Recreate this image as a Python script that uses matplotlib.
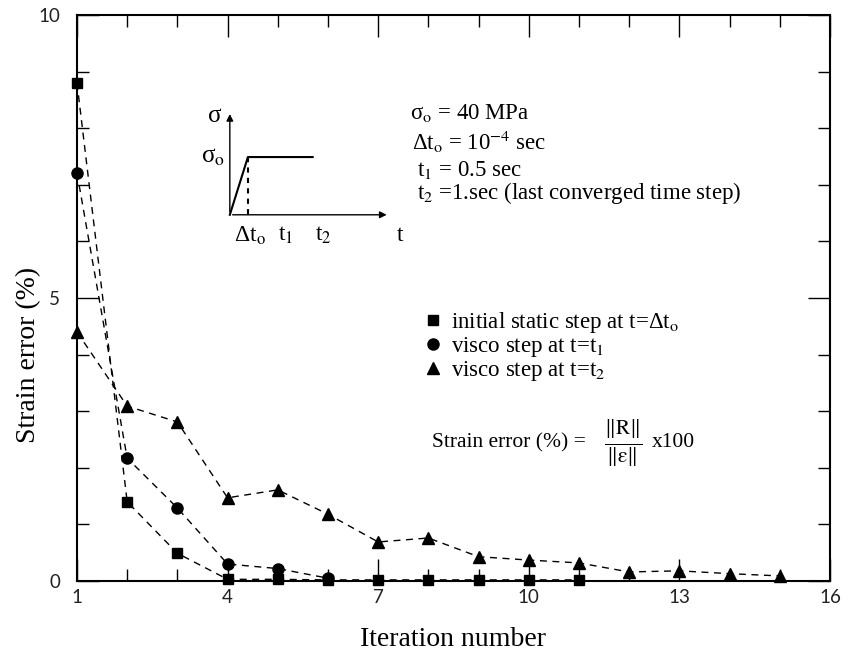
import matplotlib
matplotlib.use("Agg")
import matplotlib.pyplot as plt
from matplotlib.lines import Line2D
from matplotlib.ticker import MultipleLocator, FixedLocator

plt.rcParams["mathtext.fontset"] = "stix"

# values
iter_static = [1, 2, 3, 4, 5, 6, 7, 8, 9, 10, 11]
err_static = [8.80, 1.40, 0.49, 0.03, 0.03, 0.02, 0.02, 0.02, 0.02, 0.02, 0.02]

iter_t1 = [1, 2, 3, 4, 5, 6]
err_t1 = [7.21, 2.17, 1.29, 0.30, 0.22, 0.05]

iter_t2 = [1, 2, 3, 4, 5, 6, 7, 8, 9, 10, 11, 12, 13, 14, 15]
err_t2 = [4.40, 3.09, 2.81, 1.47, 1.61, 1.18, 0.69, 0.76, 0.43, 0.37, 0.32,
          0.16, 0.18, 0.13, 0.09]

x_major = [1, 4, 7, 10, 13, 16]
y_major = [0, 5, 10]

serif = "Liberation Serif"
sans = "Lato"

fig = plt.figure(figsize=(8.46, 6.51), dpi=100)
ax = fig.add_axes([0.091, 0.1075, 0.890, 0.8695])

style = dict(color="black", linestyle=(0, (5, 4)), linewidth=1.0, clip_on=False)
ax.plot(iter_static, err_static, marker="s", markersize=7, **style)
ax.plot(iter_t1, err_t1, marker="o", markersize=8, **style)
ax.plot(iter_t2, err_t2, marker="^", markersize=8, **style)

ax.set_xlim(1, 16)
ax.set_ylim(0, 10)
ax.xaxis.set_major_locator(FixedLocator(x_major))
ax.xaxis.set_minor_locator(MultipleLocator(1))
ax.yaxis.set_major_locator(FixedLocator(y_major))
ax.yaxis.set_minor_locator(MultipleLocator(1))
ax.tick_params(which="both", direction="in", top=True, right=True,
               width=1.0, colors="black")
ax.tick_params(which="major", length=15.5, labelsize=13.5)
ax.tick_params(axis="x", which="major", pad=6)
ax.tick_params(axis="y", which="major", pad=12)
ax.tick_params(which="minor", length=8.5)
for lab in ax.get_xticklabels() + ax.get_yticklabels():
    lab.set_fontfamily(sans)
    lab.set_fontweight("normal")
    lab.set_color("#222222")
for sp in ax.spines.values():
    sp.set_linewidth(1.5)

ax.set_xlabel("Iteration number", fontfamily=serif, fontsize=20, labelpad=15)
ax.set_ylabel("Strain error (%)", fontfamily=serif, fontsize=20)
ax.yaxis.set_label_coords(-0.048, 0.40)

# small loading sketch
tr = ax.transAxes
arrow = dict(arrowstyle="-|>", color="black", lw=1.0, mutation_scale=10)
ax.annotate("", xy=(0.203, 0.830), xytext=(0.203, 0.647), xycoords=tr,
            textcoords=tr, arrowprops=arrow)
ax.annotate("", xy=(0.415, 0.647), xytext=(0.203, 0.647), xycoords=tr,
            textcoords=tr, arrowprops=arrow)
ax.plot([0.203, 0.227, 0.313], [0.647, 0.749, 0.749], color="black", lw=1.5,
        transform=tr, clip_on=False)
ax.plot([0.227, 0.227], [0.749, 0.647], color="black", lw=1.5,
        linestyle=(0, (2.5, 2.5)), transform=tr)
ax.text(0.183, 0.822, "σ", transform=tr, fontsize=18, fontfamily=serif,
        ha="center", va="center")
ax.text(0.197, 0.749, r"σ$_{\rm o}$", transform=tr, fontsize=18,
        fontfamily=serif, ha="right", va="center")
ax.text(0.230, 0.610, r"Δt$_{\rm o}$", transform=tr, fontsize=17,
        fontfamily=serif, ha="center", va="center")
ax.text(0.277, 0.610, r"t$_1$", transform=tr, fontsize=17,
        fontfamily=serif, ha="center", va="center")
ax.text(0.327, 0.610, r"t$_2$", transform=tr, fontsize=17,
        fontfamily=serif, ha="center", va="center")
ax.text(0.429, 0.610, "t", transform=tr, fontsize=17,
        fontfamily=serif, ha="center", va="center")

# parameters
params = [
    (0.442, 0.827, r"σ$_{\rm o}$ = 40 MPa"),
    (0.445, 0.776, r"Δt$_{\rm o}$ = 10$^{-4}$ sec"),
    (0.452, 0.726, r"t$_1$ = 0.5 sec"),
    (0.452, 0.686, r"t$_2$ =1.sec (last converged time step)"),
]
for px, py, s in params:
    ax.text(px, py, s, transform=tr, fontsize=16.5, fontfamily=serif,
            ha="left", va="center")

handles = [
    Line2D([], [], color="black", marker="s", markersize=7, linestyle="none"),
    Line2D([], [], color="black", marker="o", markersize=8, linestyle="none"),
    Line2D([], [], color="black", marker="^", markersize=8, linestyle="none"),
]
labels = [r"initial static step at t=Δt$_{\rm o}$",
          r"visco step at t=t$_1$",
          r"visco step at t=t$_2$"]
ax.legend(handles, labels, loc="upper left", bbox_to_anchor=(0.4635, 0.479),
          frameon=False, prop={"family": serif, "size": 16.5},
          handlelength=0.6, handletextpad=0.5, labelspacing=0.0,
          borderpad=0, borderaxespad=0)

# error definition
ax.text(0.471, 0.244, "Strain error (%) =", transform=tr, fontsize=15.5,
        fontfamily=serif, ha="left", va="center")
ax.text(0.725, 0.244,
        r"$\frac{\Vert\mathrm{R}\Vert}{\Vert\mathrm{\varepsilon}\Vert}$",
        transform=tr, fontsize=22, ha="center", va="center")
ax.text(0.764, 0.244, "x100", transform=tr, fontsize=15.5,
        fontfamily=serif, ha="left", va="center")

fig.savefig("out.png", dpi=100)
